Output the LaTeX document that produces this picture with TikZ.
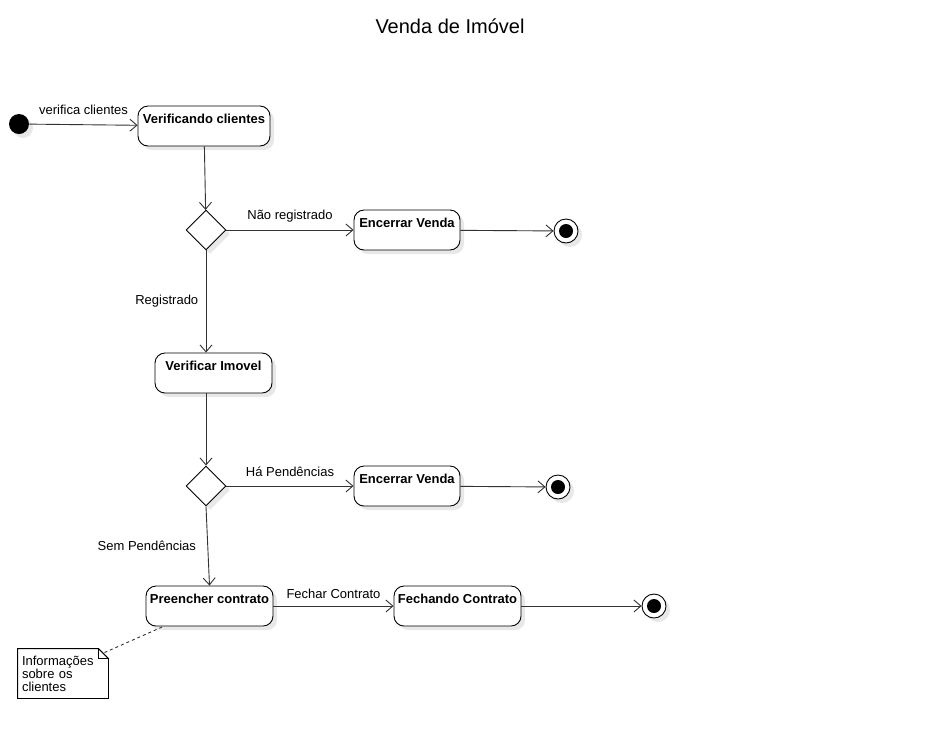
\documentclass[tikz,border=0pt]{standalone}
\usepackage{fontspec}
\setmainfont{Liberation Sans}
\usetikzlibrary{arrows.meta, shapes.geometric, shadows, calc}
\definecolor{sombra}{RGB}{232,232,232}
\definecolor{linha}{RGB}{50,50,50}

\begin{document}
\begin{tikzpicture}[x=1pt, y=-1pt, line width=0.9pt,
    every node/.style={font=\fontsize{13}{13}\selectfont},
    sombreado/.style={drop shadow={shadow xshift=4pt, shadow yshift=-4pt, fill=sombra, opacity=1}},
    estado/.style={draw, rounded corners=10pt, fill=white, minimum height=40pt,
        text height=13pt, text depth=19pt, inner ysep=4pt,
        font=\fontsize{13}{13}\selectfont\bfseries, sombreado},
    decisao/.style={diamond, draw, fill=white, aspect=1, minimum width=40pt,
        minimum height=40pt, inner sep=0pt, sombreado},
    inicial/.style={circle, fill=black, minimum size=20pt, inner sep=0pt, sombreado},
    final/.style={circle, draw, fill=white, minimum size=24pt, inner sep=0pt, sombreado},
    fluxo/.style={draw=linha, -{Straight Barb[length=7pt, width=12pt]}},
    ligacao/.style={draw=linha, dashed}]
    \useasboundingbox (0,0) rectangle (933,740);
    \node[font=\fontsize{20}{24}\selectfont] (titulo) at (450,26) {Venda de Imóvel};
    % estados
    \node[inicial] (inicio) at (19,124) {};
    \node[estado, minimum width=132pt] (verif) at (204,126) {Verificando clientes};
    \node[decisao] (dec1) at (206,230) {};
    \node[estado, minimum width=106pt] (enc1) at (407,230) {Encerrar Venda};
    \node[final] (fim1) at (566,231) {};
    \node[estado, minimum width=117pt] (imovel) at (213.5,373) {Verificar Imovel};
    \node[decisao] (dec2) at (206,486) {};
    \node[estado, minimum width=106pt] (enc2) at (407,486) {Encerrar Venda};
    \node[final] (fim2) at (558,487) {};
    \node[estado, minimum width=127pt] (preencher) at (209.5,606) {Preencher contrato};
    \node[estado, minimum width=127pt] (fechando) at (457.5,606) {Fechando Contrato};
    \node[final] (fim3) at (654,606) {};
    \foreach \f in {fim1, fim2, fim3}
        \fill (\f.center) circle (7pt);
    % nota
    \node[minimum width=90pt, minimum height=49pt, text width=82pt, align=left,
        inner sep=4pt] (nota) at (63,673.5) {Informações\\sobre os\\clientes};
    \draw (nota.north west) -- ($(nota.north east)+(-10,0)$) -- ($(nota.north east)+(0,10)$)
        -- (nota.south east) -- (nota.south west) -- cycle;
    \draw ($(nota.north east)+(-10,0)$) -- ($(nota.north east)+(-10,10)$) -- ($(nota.north east)+(0,10)$);
    \coordinate (dobra) at ($(nota.north east)+(-4,4)$);
    % transicoes
    \draw[fluxo] (inicio) -- node[above=6pt] {verifica clientes} (verif);
    \draw[fluxo] (verif) -- (dec1);
    \draw[fluxo] (dec1) -- node[above=4pt] {Não registrado} (enc1);
    \draw[fluxo] (enc1) -- (fim1);
    \draw[fluxo] (dec1.south) -- node[left=4pt] {Registrado} (dec1.south |- imovel.north);
    \draw[fluxo] (imovel.south -| dec2.north) -- (dec2.north);
    \draw[fluxo] (dec2) -- node[above=6pt] {Há Pendências} (enc2);
    \draw[fluxo] (enc2) -- (fim2);
    \draw[fluxo] (dec2.south) -- node[left=8pt] {Sem Pendências} (preencher.north);
    \draw[fluxo] (preencher) -- node[above=4pt] {Fechar Contrato} (fechando);
    \draw[fluxo] (fechando) -- (fim3);
    \draw[ligacao] (dobra) -- (preencher);
\end{tikzpicture}
\end{document}
